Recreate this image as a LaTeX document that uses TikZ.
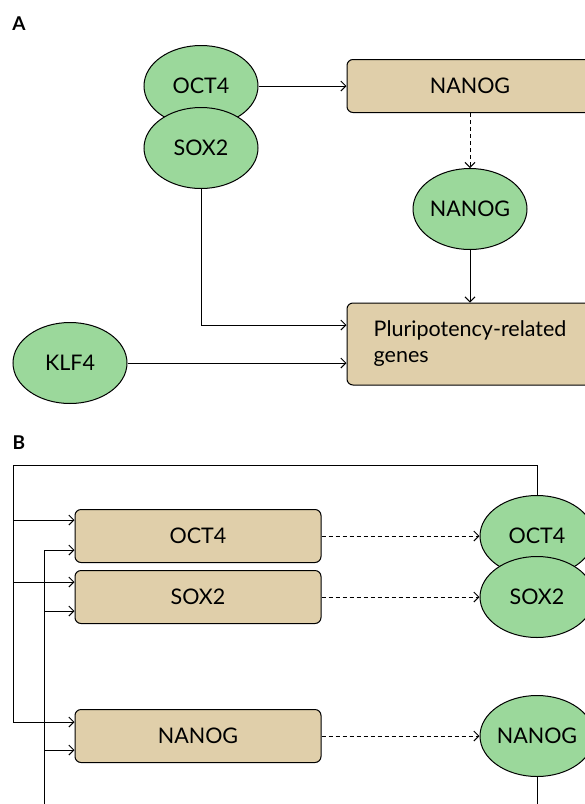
\documentclass[tikz,border=0pt]{standalone}
\usepackage{fontspec}
\setmainfont{Lato}
\usepackage{tikz}
\usetikzlibrary{positioning,calc}
\usetikzlibrary{arrows.meta,shapes.geometric}
\definecolor{ProtGreen}{RGB}{155,216,155}
\definecolor{GeneTan}{RGB}{224,207,170}
\tikzset{
  prot/.style={ellipse,draw=black,fill=ProtGreen,line width=1pt,inner sep=0pt,
    minimum width=114pt,minimum height=81pt,font=\fontsize{21.5}{26}\selectfont},
  gene/.style={draw=black,fill=GeneTan,rounded corners=6pt,line width=1pt,inner sep=0pt,
    minimum width=246pt,minimum height=53pt,font=\fontsize{21.5}{26}\selectfont},
  act/.style={draw=black,line width=1pt,-{Straight Barb[length=5pt,width=10pt]}},
  expr/.style={act,dash pattern=on 4pt off 3pt},
  link/.style={draw=black,line width=1pt},
  panel/.style={font=\fontsize{19}{22}\selectfont\bfseries},
}

\begin{document}
\begin{tikzpicture}[x=1pt,y=-1pt]
\useasboundingbox (0,0) rectangle (585,804);
\clip (0,0) rectangle (585,804);
% panel A
\node[panel] (labA) at (19,24) {A};
\node[prot] (oct4a) at (201,86) {OCT4};
\node[prot] (sox2a) at (201,148) {SOX2};
\node[gene] (nanogg) at (470,86) {NANOG};
\node[prot] (nanogp) at (470,209) {NANOG};
\node[gene,minimum height=82pt,align=left] (plur) at (470,344) {Pluripotency-related\\genes};
\node[prot] (klf4) at (70,363) {KLF4};
\coordinate (sbend) at (sox2a.south |- 0,325);
\draw[act] (oct4a.east) -- (nanogg.west);
\draw[expr] (nanogg.south) -- (nanogp.north);
\draw[act] (nanogp.south) -- (plur.north);
\draw[act] (sox2a.south) -- (sbend) -- (plur.west |- sbend);
\draw[act] (klf4.east) -- (plur.west |- klf4.east);
% panel B
\node[panel] (labB) at (19,443) {B};
\node[gene] (oct4g) at (198,536) {OCT4};
\node[gene] (sox2g) at (198,597) {SOX2};
\node[gene] (nanoggb) at (198,736) {NANOG};
\node[prot] (oct4p) at (537,536) {OCT4};
\node[prot] (sox2p) at (537,597) {SOX2};
\node[prot] (nanogpb) at (537,736) {NANOG};
\draw[expr] (oct4g.east) -- (oct4p.west);
\draw[expr] (sox2g.east) -- (sox2p.west);
\draw[expr] (nanoggb.east) -- (nanogpb.west);
\coordinate (ttop) at (537,465);
\coordinate (tleft) at (13,465);
\coordinate (tend) at (13,722);
\draw[link] (oct4p.north) -- (ttop) -- (tleft) -- (tend);
\draw[act] (tend) -- ([yshift=14pt]nanoggb.west);
\draw[act] (13,520) -- ([yshift=16pt]oct4g.west);
\draw[act] (13,582) -- ([yshift=15pt]sox2g.west);
\coordinate (bbot) at (537,830);
\coordinate (bleft) at (44,830);
\coordinate (bend) at (44,550);
\draw[link] (nanogpb.south) -- (bbot) -- (bleft) -- (bend);
\draw[act] (bend) -- ([yshift=-14pt]oct4g.west);
\draw[act] (44,611) -- ([yshift=-14pt]sox2g.west);
\draw[act] (44,750) -- ([yshift=-14pt]nanoggb.west);
\end{tikzpicture}
\end{document}
